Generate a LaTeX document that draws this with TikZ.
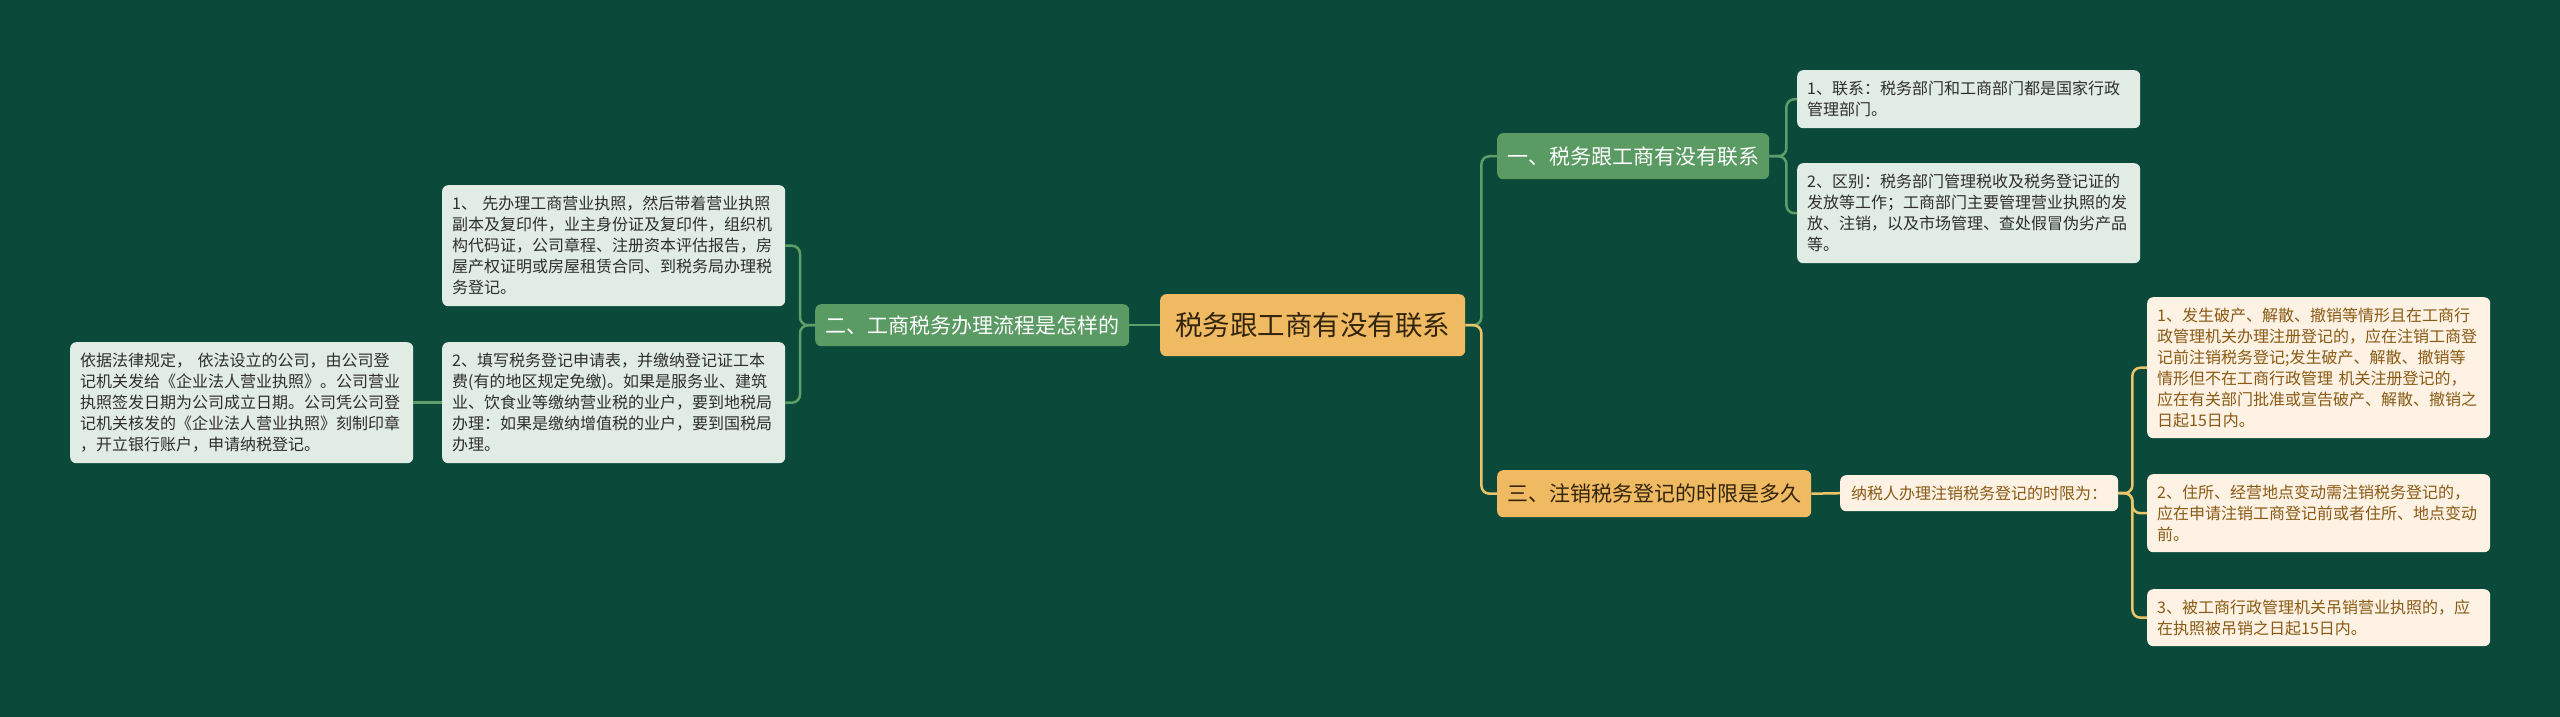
\documentclass[tikz,border=0pt]{standalone}
\usepackage{fontspec}
\setmainfont{Noto Sans CJK SC}
\definecolor{bg}{HTML}{0B4A3A}
\definecolor{gnode}{HTML}{5A9A63}
\definecolor{lbox}{HTML}{E0ECE4}
\definecolor{ltext}{HTML}{2E2E2E}
\definecolor{onode}{HTML}{F0BA62}
\definecolor{otext}{HTML}{33240C}
\definecolor{cbox}{HTML}{FDF2E4}
\definecolor{ctext}{HTML}{8A5A14}
\definecolor{gline}{HTML}{5E9E68}
\definecolor{oline}{HTML}{EDC46A}
\tikzset{
  base/.style={anchor=north west, rounded corners=6pt, inner ysep=0pt, inner xsep=10pt},
  lightbox/.style={base, fill=lbox, text=ltext, align=left, font=\fontsize{16pt}{21pt}\selectfont},
  creambox/.style={base, fill=cbox, text=ctext, align=left, font=\fontsize{16pt}{21pt}\selectfont},
  greennode/.style={base, fill=gnode, text=white, align=center, font=\fontsize{21pt}{25pt}\selectfont},
  orangenode/.style={base, fill=onode, text=otext, align=center, font=\fontsize{21pt}{25pt}\selectfont},
  gconn/.style={draw=gline, line width=2.5pt, rounded corners=8pt},
  oconn/.style={draw=oline, line width=2.5pt, rounded corners=8pt},
}
\begin{document}
\begin{tikzpicture}[x=1pt,y=-1pt]
\fill[bg] (0,0) rectangle (2560,717);
\useasboundingbox (0,0) rectangle (2560,717);

% center
\node[orangenode, minimum width=305pt, minimum height=62pt, font=\fontsize{27.5pt}{30pt}\selectfont] (C) at (1160,294) {税务跟工商有没有联系};

% left branch
\node[greennode, minimum width=313pt, minimum height=42pt] (N2) at (815,304) {二、工商税务办理流程是怎样的};
\node[lightbox, text width=323pt, minimum height=121pt] (L1) at (442,185) {1、 先办理工商营业执照，然后带着营业执照\\副本及复印件，业主身份证及复印件，组织机\\构代码证，公司章程、注册资本评估报告，房\\屋产权证明或房屋租赁合同、到税务局办理税\\务登记。};
\node[lightbox, text width=323pt, minimum height=121pt] (L2) at (442,342) {2、填写税务登记申请表，并缴纳登记证工本\\费(有的地区规定免缴)。如果是服务业、建筑\\业、饮食业等缴纳营业税的业户，要到地税局\\办理：如果是缴纳增值税的业户，要到国税局\\办理。};
\node[lightbox, text width=323pt, minimum height=121pt] (L3) at (70,342) {依据法律规定，\ 依法设立的公司，由公司登\\记机关发给《企业法人营业执照》。公司营业\\执照签发日期为公司成立日期。公司凭公司登\\记机关核发的《企业法人营业执照》刻制印章\\，开立银行账户，申请纳税登记。};

% right upper branch
\node[greennode, minimum width=271pt, minimum height=46pt] (N1) at (1497,133) {一、税务跟工商有没有联系};
\node[lightbox, text width=323pt, minimum height=58pt] (R1) at (1797,70) {1、联系：税务部门和工商部门都是国家行政\\管理部门。};
\node[lightbox, text width=323pt, minimum height=100pt] (R2) at (1797,163) {2、区别：税务部门管理税收及税务登记证的\\发放等工作；工商部门主要管理营业执照的发\\放、注销，以及市场管理、查处假冒伪劣产品\\等。};

% right lower branch
\node[orangenode, minimum width=313pt, minimum height=47pt] (N3) at (1497,470) {三、注销税务登记的时限是多久};
\node[creambox, minimum width=278pt, minimum height=36pt, align=center] (M) at (1840,475) {纳税人办理注销税务登记的时限为：};
\node[creambox, text width=323pt, minimum height=141pt] (S1) at (2147,297) {1、发生破产、解散、撤销等情形且在工商行\\政管理机关办理注册登记的，应在注销工商登\\记前注销税务登记;发生破产、解散、撤销等\\情形但不在工商行政管理 机关注册登记的，\\应在有关部门批准或宣告破产、解散、撤销之\\日起15日内。};
\node[creambox, text width=323pt, minimum height=78pt] (S2) at (2147,474) {2、住所、经营地点变动需注销税务登记的，\\应在申请注销工商登记前或者住所、地点变动\\前。};
\node[creambox, text width=323pt, minimum height=57pt] (S3) at (2147,589) {3、被工商行政管理机关吊销营业执照的，应\\在执照被吊销之日起15日内。};

% connectors
\draw[gconn] (C.west) -- (N2.east);
\draw[gconn] (N2.west) -- ++(-15,0) |- (L1.east);
\draw[gconn] (N2.west) -- ++(-15,0) |- (L2.east);
\draw[gconn] (L2.west) -- (L3.east);
\draw[gconn] (C.east) -- ++(16,0) |- (N1.west);
\draw[oconn] (C.east) -- ++(16,0) |- (N3.west);
\draw[gconn] (N1.east) -- ++(17,0) |- (R1.west);
\draw[gconn] (N1.east) -- ++(17,0) |- (R2.west);
\draw[oconn] (N3.east) -- (M.west);
\draw[oconn] (M.east) -- ++(14,0) |- (S1.west);
\draw[oconn] (M.east) -- ++(14,0) |- (S2.west);
\draw[oconn] (M.east) -- ++(14,0) |- (S3.west);
\end{tikzpicture}
\end{document}
